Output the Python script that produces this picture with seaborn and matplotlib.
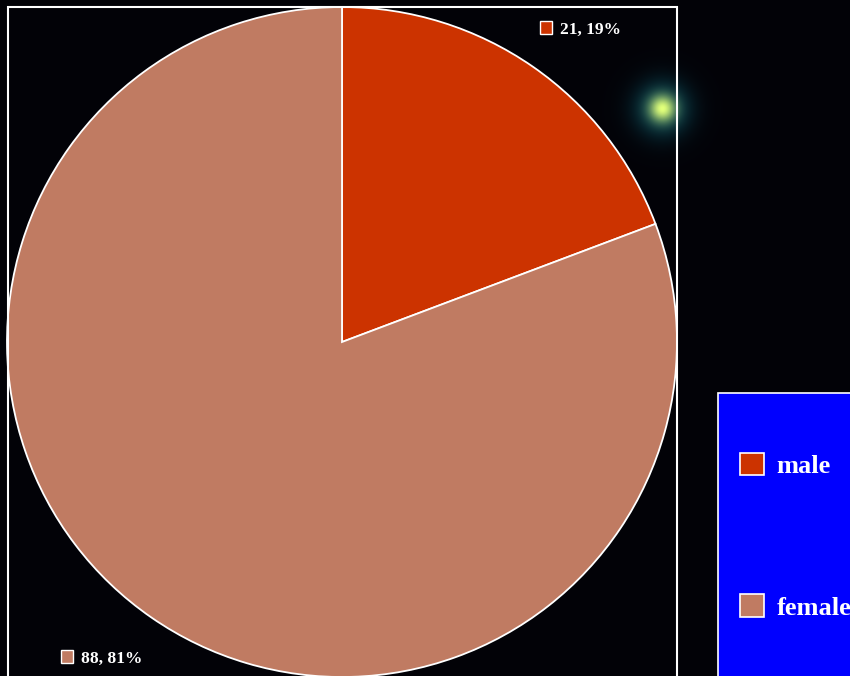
import numpy as np
import matplotlib
matplotlib.use('Agg')
import matplotlib.pyplot as plt
import seaborn as sns
from matplotlib.patches import Rectangle

# data
labels = ['male', 'female']
counts = [21, 88]
pcts = [19, 81]
colors = ['#CC3300', '#C07B62']

sns.set_theme(style='dark')
plt.rcParams['font.family'] = ['Liberation Serif', 'DejaVu Serif']

W, H = 850, 676
fig = plt.figure(figsize=(W / 100, H / 100), dpi=100, facecolor='black')

# dark sky background with one glowing star
bg = fig.add_axes([0, 0, 1, 1])
yy, xx = np.mgrid[0:H, 0:W]
d2 = (xx - 662) ** 2 + (yy - 108) ** 2
core = np.exp(-d2 / (2 * 9.0 ** 2))
halo = np.exp(-d2 / (2 * 18.0 ** 2))
img = np.zeros((H, W, 3))
img[..., 0] = 0.01 + 0.85 * core + 0.03 * halo
img[..., 1] = 0.01 + 0.65 * core + 0.35 * halo
img[..., 2] = 0.03 + 0.05 * core + 0.4 * halo
bg.imshow(np.clip(img, 0, 1), aspect='auto', extent=(0, W, H, 0))
bg.set_xlim(0, W)
bg.set_ylim(H, 0)
bg.axis('off')

# pie
ax = fig.add_axes([7 / W, (H - 677) / H, 670 / W, 670 / H])
wedges, _ = ax.pie(counts, colors=colors, startangle=90, counterclock=False,
                   wedgeprops=dict(edgecolor='white', linewidth=1.3))
ax.set_xlim(-1, 1)
ax.set_ylim(-1, 1)
ax.set_aspect('equal')
ax.axis('off')

# white frame around pie area
fig.patches.append(Rectangle((8 / W, -0.01), 669 / W, (H - 7) / H + 0.01,
                             transform=fig.transFigure, fill=False,
                             edgecolor='white', linewidth=1.5, zorder=5))

# value labels with coloured markers
label_pos = [(560, 30), (81, 659)]
for (px, py), c, n, p in zip(label_pos, colors, counts, pcts):
    fig.patches.append(Rectangle(((px - 20) / W, 1 - (py + 4) / H), 12 / W, 13 / H,
                                 transform=fig.transFigure, facecolor=c,
                                 edgecolor='white', linewidth=1, zorder=6))
    fig.text(px / W, 1 - py / H, f'{n}, {p}%', color='white', fontsize=12.5,
             fontweight='bold', ha='left', va='center', zorder=6)

# legend box
fig.patches.append(Rectangle((718 / W, -0.01), 0.2, (H - 393) / H + 0.01,
                             transform=fig.transFigure, facecolor='#0000FF',
                             edgecolor='white', linewidth=1.2, zorder=5))
leg = fig.legend(wedges, labels, loc='upper left',
                 bbox_to_anchor=(719 / W, 1 - 432 / H), frameon=False,
                 prop=dict(family='Liberation Serif', weight='bold', size=19),
                 labelcolor='white', handlelength=0.92, handleheight=0.92,
                 handletextpad=0.45, labelspacing=4.4, borderpad=0.3)
leg.set_zorder(7)
for h in leg.legend_handles:
    h.set_edgecolor('white')
    h.set_linewidth(1.2)

fig.savefig('out.png', dpi=100, facecolor='black')
